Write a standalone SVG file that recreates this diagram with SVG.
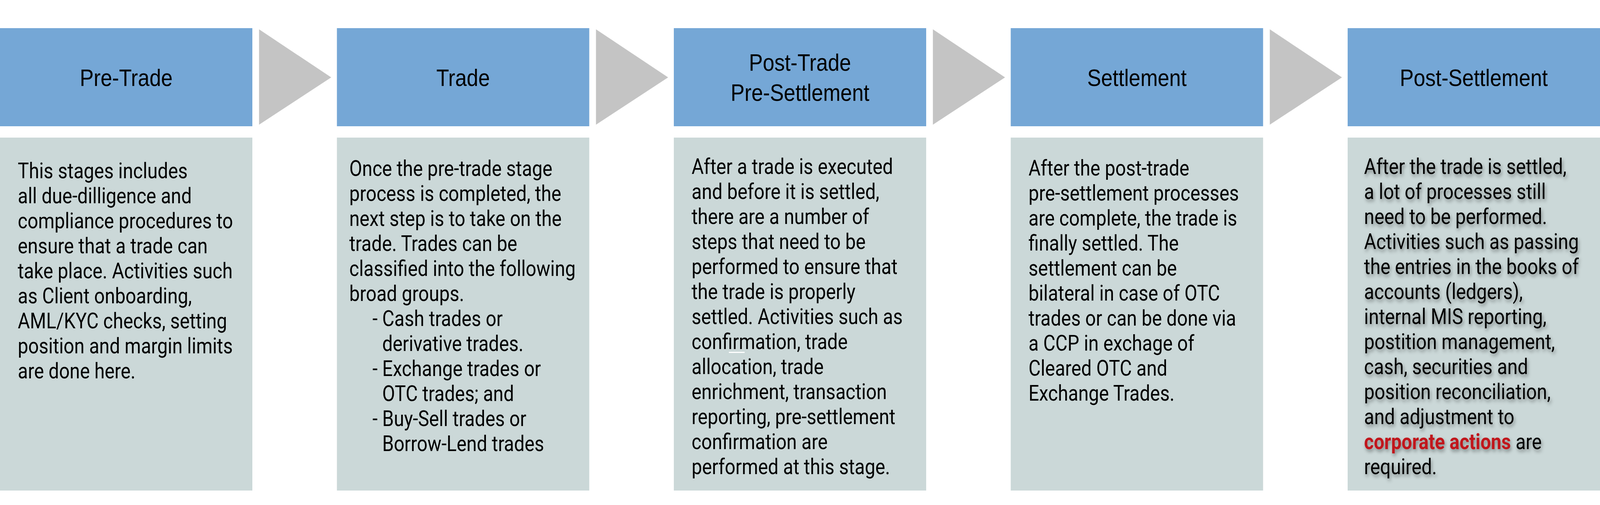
<svg xmlns="http://www.w3.org/2000/svg" width="4768" height="1292" viewBox="0 0 4768 1292" preserveAspectRatio="none">
<style>
:root{width:100vw;height:100vh}
.hd{fill:#75A7D6}
.bd{fill:#CBD8D8}
.ar{fill:#C4C4C4}
.ht{font-family:"Liberation Sans",Arial,sans-serif;font-size:62px;fill:#000;text-anchor:middle}
.bt{font-family:Roboto,"Noto Sans",sans-serif;font-size:55.5px;fill:#000}
.red{fill:#C0181C;font-weight:bold}
</style>
<defs>
<filter id="sh" x="-10%" y="-10%" width="125%" height="125%">
<feDropShadow dx="3" dy="6" stdDeviation="5" flood-color="#000" flood-opacity="0.4"/>
</filter>
</defs>
<rect width="4768" height="1292" fill="#fff"/>
<g id="connectors">
<polygon class="ar" points="772,75 987,198 772,319"/>
<polygon class="ar" points="1776,75 1991,198 1776,319"/>
<polygon class="ar" points="2780,75 2995,198 2780,319"/>
<polygon class="ar" points="3784,75 3999,198 3784,319"/>
</g>
<g id="pre-trade">
<rect class="hd" x="0" y="72" width="752" height="251"/>
<text class="ht" x="376" y="220">Pre-Trade</text>
<rect class="bd" x="0" y="352" width="752" height="903"/>
<text class="bt">
<tspan x="53" y="456">This stages includes</tspan>
<tspan x="53" y="520">all due-dilligence and</tspan>
<tspan x="53" y="584">compliance procedures to</tspan>
<tspan x="53" y="648">ensure that a trade can</tspan>
<tspan x="53" y="712">take place. Activities such</tspan>
<tspan x="53" y="776">as Client onboarding,</tspan>
<tspan x="53" y="840">AML/KYC checks, setting</tspan>
<tspan x="53" y="904">position and margin limits</tspan>
<tspan x="53" y="968">are done here.</tspan>
</text>
</g>
<g id="trade">
<rect class="hd" x="1004" y="72" width="752" height="251"/>
<text class="ht" x="1380" y="220">Trade</text>
<rect class="bd" x="1004" y="352" width="752" height="903"/>
<text class="bt">
<tspan x="1041" y="450">Once the pre-trade stage</tspan>
<tspan x="1041" y="514">process is completed, the</tspan>
<tspan x="1041" y="578">next step is to take on the</tspan>
<tspan x="1041" y="642">trade. Trades can be</tspan>
<tspan x="1041" y="706">classified into the following</tspan>
<tspan x="1041" y="770">broad groups.</tspan>
<tspan x="1110" y="834">- Cash trades or</tspan>
<tspan x="1139" y="898">derivative trades.</tspan>
<tspan x="1110" y="962">- Exchange trades or</tspan>
<tspan x="1139" y="1026">OTC trades; and</tspan>
<tspan x="1110" y="1090">- Buy-Sell trades or</tspan>
<tspan x="1139" y="1154">Borrow-Lend trades</tspan>
</text>
</g>
<g id="post-trade-pre-settlement">
<rect class="hd" x="2008" y="72" width="752" height="251"/>
<text class="ht"><tspan x="2384" y="181">Post-Trade</tspan><tspan x="2384" y="258">Pre-Settlement</tspan></text>
<rect class="bd" x="2008" y="352" width="752" height="903"/>
<text class="bt">
<tspan x="2061" y="445">After a trade is executed</tspan>
<tspan x="2061" y="509">and before it is settled,</tspan>
<tspan x="2061" y="573">there are a number of</tspan>
<tspan x="2061" y="637">steps that need to be</tspan>
<tspan x="2061" y="701">performed to ensure that</tspan>
<tspan x="2061" y="765">the trade is properly</tspan>
<tspan x="2061" y="829">settled. Activities such as</tspan>
<tspan x="2061" y="893">confirmation, trade</tspan>
<tspan x="2061" y="957">allocation, trade</tspan>
<tspan x="2061" y="1021">enrichment, transaction</tspan>
<tspan x="2061" y="1085">reporting, pre-settlement</tspan>
<tspan x="2061" y="1149">confirmation are</tspan>
<tspan x="2061" y="1213">performed at this stage.</tspan>
</text>
<rect x="2172" y="900" width="47" height="3" fill="#fff"/>
</g>
<g id="settlement">
<rect class="hd" x="3012" y="72" width="752" height="251"/>
<text class="ht" x="3388" y="220">Settlement</text>
<rect class="bd" x="3012" y="352" width="752" height="903"/>
<text class="bt">
<tspan x="3065" y="449">After the post-trade</tspan>
<tspan x="3065" y="513">pre-settlement processes</tspan>
<tspan x="3065" y="577">are complete, the trade is</tspan>
<tspan x="3065" y="641">finally settled. The</tspan>
<tspan x="3065" y="705">settlement can be</tspan>
<tspan x="3065" y="769">bilateral in case of OTC</tspan>
<tspan x="3065" y="833">trades or can be done via</tspan>
<tspan x="3065" y="897">a CCP in exchage of</tspan>
<tspan x="3065" y="961">Cleared OTC and</tspan>
<tspan x="3065" y="1025">Exchange Trades.</tspan>
</text>
</g>
<g id="post-settlement">
<rect class="hd" x="4016" y="72" width="752" height="251"/>
<text class="ht" x="4392" y="220">Post-Settlement</text>
<rect class="bd" x="4016" y="352" width="752" height="903"/>
<text class="bt" filter="url(#sh)">
<tspan x="4065" y="445">After the trade is settled,</tspan>
<tspan x="4065" y="509">a lot of processes still</tspan>
<tspan x="4065" y="573">need to be performed.</tspan>
<tspan x="4065" y="637">Activities such as passing</tspan>
<tspan x="4065" y="701">the entries in the books of</tspan>
<tspan x="4065" y="765">accounts (ledgers),</tspan>
<tspan x="4065" y="829">internal MIS reporting,</tspan>
<tspan x="4065" y="893">postition management,</tspan>
<tspan x="4065" y="957">cash, securities and</tspan>
<tspan x="4065" y="1021">position reconciliation,</tspan>
<tspan x="4065" y="1085">and adjustment to</tspan>
<tspan x="4065" y="1149"><tspan class="red">corporate actions</tspan> are</tspan>
<tspan x="4065" y="1213">required.</tspan>
</text>
</g>
</svg>
